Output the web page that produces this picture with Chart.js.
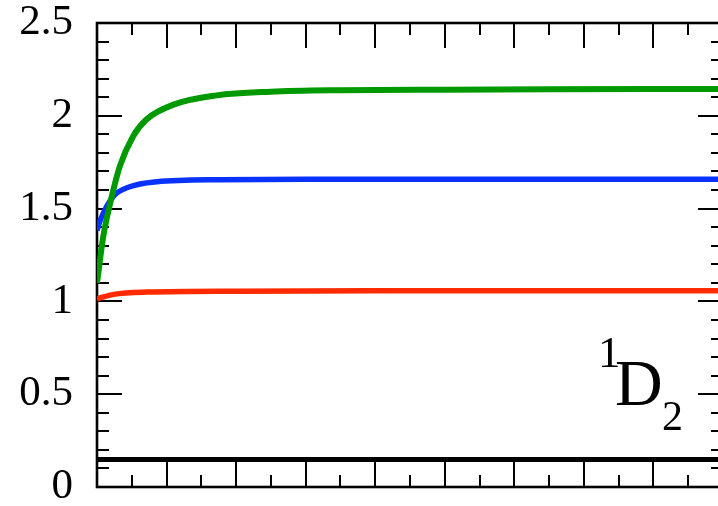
<!DOCTYPE html>
<html>
<head>
<meta charset="UTF-8" />
<script src="https://cdn.jsdelivr.net/npm/chart.js@4.4.0/dist/chart.umd.min.js"></script>
<style>
  html, body { margin: 0; padding: 0; background: #fff; overflow: hidden; }
  #wrap { width: 730px; height: 506px; }
</style>
</head>
<body>
<div id="wrap"><canvas id="chart" width="730" height="506"></canvas></div>
<script>
// Values (x in arbitrary units, 0..9).
const greenX = [0, 0.09, 0.19, 0.33, 0.52, 0.71, 1.1, 1.72, 2.5, 3.5, 5, 6.5, 8, 9];
const greenY = [1.10, 1.35, 1.53, 1.73, 1.89, 1.98, 2.06, 2.11, 2.13, 2.138, 2.141, 2.143, 2.144, 2.144];

const blueX = [0, 0.05, 0.23, 0.47, 0.86, 1.77, 3, 5, 7, 9];
const blueY = [1.383, 1.44, 1.564, 1.618, 1.645, 1.656, 1.658, 1.658, 1.658, 1.658];

const redX = [0, 0.24, 0.71, 2.06, 4, 6, 9];
const redY = [1.014, 1.038, 1.05, 1.055, 1.057, 1.057, 1.057];

const baseX = [0, 9];
const baseY = [0.148, 0.148];

const X_MIN = 0, X_MAX = 9;
const Y_MIN = 0, Y_MAX = 2.5;

const SERIF = '"Liberation Serif", "Times New Roman", Times, serif';

function pts(xs, ys) {
  return xs.map((x, i) => ({ x, y: ys[i] }));
}

function line(data, color, width) {
  return {
    data,
    borderColor: color,
    backgroundColor: color,
    borderWidth: width,
    pointRadius: 0,
    showLine: true,
    cubicInterpolationMode: 'monotone',
    fill: false,
  };
}

// Inward ticks on all four sides, frame and the term label.
const frame = {
  id: 'frame',
  beforeDatasetsDraw(c) {
    const ctx = c.ctx, a = c.chartArea, xs = c.scales.x, ys = c.scales.y;
    ctx.save();
    ctx.strokeStyle = '#000';
    ctx.lineWidth = 2;
    ctx.beginPath();
    for (let i = 1; i < (X_MAX - X_MIN) * 2; i++) {
      const px = Math.round(xs.getPixelForValue(X_MIN + i / 2));
      const len = i % 2 === 0 ? 25 : 12;
      ctx.moveTo(px, a.top); ctx.lineTo(px, a.top + len);
      ctx.moveTo(px, a.bottom); ctx.lineTo(px, a.bottom - len);
    }
    for (let i = 1; i < 25; i++) {
      const py = Math.round(ys.getPixelForValue(i / 10));
      const len = i % 5 === 0 ? 25 : 12;
      ctx.moveTo(a.left, py); ctx.lineTo(a.left + len, py);
      ctx.moveTo(a.right, py); ctx.lineTo(a.right - len, py);
    }
    ctx.stroke();
    ctx.lineWidth = 2.6;
    ctx.strokeRect(a.left, a.top, a.right - a.left, a.bottom - a.top);

    ctx.fillStyle = '#000';
    ctx.textBaseline = 'alphabetic';
    ctx.textAlign = 'left';
    ctx.font = '45px ' + SERIF;
    ctx.fillText('1', 598, 367);
    ctx.font = '66px ' + SERIF;
    ctx.fillText('D', 615, 405);
    ctx.font = '42px ' + SERIF;
    ctx.fillText('2', 662, 430);
    ctx.restore();
  },
};

const chart = new Chart(document.getElementById('chart'), {
  type: 'scatter',
  data: {
    datasets: [
      line(pts(greenX, greenY), '#009a00', 6),
      line(pts(blueX, blueY), '#0a32ff', 5.5),
      line(pts(redX, redY), '#ff2a00', 5.5),
      line(pts(baseX, baseY), '#000000', 5),
    ],
  },
  options: {
    responsive: false,
    animation: false,
    layout: { padding: { top: 23, bottom: 19, right: 7, left: 0 } },
    plugins: { legend: { display: false }, tooltip: { enabled: false } },
    scales: {
      x: { type: 'linear', min: X_MIN, max: X_MAX, display: false },
      y: {
        type: 'linear',
        min: Y_MIN,
        max: Y_MAX,
        afterFit: (s) => {
          s.width = 97;
          s.paddingTop = 0;
          s.paddingBottom = 0;
        },
        grid: { display: false, drawTicks: false },
        border: { display: false },
        ticks: {
          stepSize: 0.5,
          padding: 24,
          color: '#000',
          font: { family: SERIF, size: 43 },
          callback: (v) => String(v),
        },
      },
    },
  },
  plugins: [frame],
});

if (document.fonts && document.fonts.ready) {
  document.fonts.ready.then(() => chart.update());
}
</script>
</body>
</html>
